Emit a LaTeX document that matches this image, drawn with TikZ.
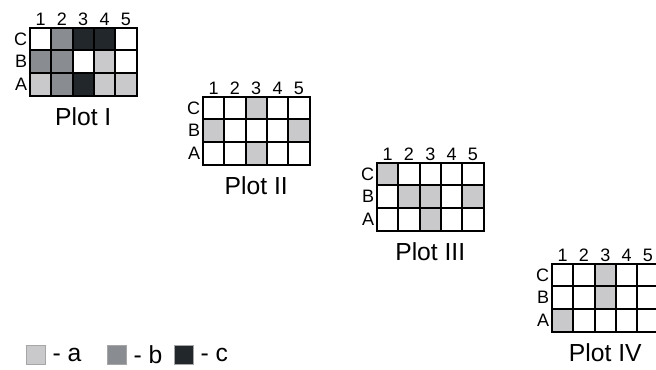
\documentclass[tikz,border=0pt]{standalone}
\usepackage{fontspec}
\setmainfont{Liberation Sans}
\usetikzlibrary{positioning}
\definecolor{cw}{HTML}{FFFFFF}
\definecolor{ca}{HTML}{C9C9CB}
\definecolor{cb}{HTML}{898C90}
\definecolor{cc}{HTML}{22272C}
\tikzset{cell/.style={draw, line width=1.5pt, minimum width=16pt, minimum height=16.9pt, inner sep=0pt, outer sep=0pt}}
\tikzset{axlab/.style={font=\fontsize{13.5}{14}\selectfont, inner sep=0pt}}
\tikzset{plotname/.style={font=\fontsize{18.5}{19}\selectfont, inner sep=0pt}}
\tikzset{key/.style={draw=gray!70, line width=0.6pt, minimum size=14pt, inner sep=0pt}}
\tikzset{keylab/.style={font=\fontsize{18.5}{19}\selectfont, inner sep=0pt}}

% #1 name, #2 left, #3 top, #4 rows C,B,A, #5 title
\newcommand{\plotgrid}[5]{%
  \foreach \row [count=\r] in {#4} {
    \foreach \f [count=\c] in \row {
      \node[cell, fill=\f] (#1-\r-\c) at ({#2+(\c-0.5)*21.3}, {#3+(\r-0.5)*22.5}) {};
    }
  }
  \foreach \lab [count=\r] in {C,B,A}
    \node[axlab, left=2pt of #1-\r-1] {\lab};
  \foreach \c in {1,...,5}
    \node[axlab, above=1.5pt of #1-1-\c] {\c};
  \node[plotname, below=9pt of #1-3-3] (#1-name) {#5};
}

\begin{document}
\begin{tikzpicture}[x=0.75pt,y=-0.75pt]
  \useasboundingbox (0,0) rectangle (656,369);

  \plotgrid{p1}{30}{28}{{cw,cb,cc,cc,cw},{cb,cb,cw,ca,cw},{ca,cb,cc,ca,ca}}{Plot I}
  \plotgrid{p2}{203}{97}{{cw,cw,ca,cw,cw},{ca,cw,cw,cw,ca},{cw,cw,ca,cw,cw}}{Plot II}
  \plotgrid{p3}{377}{163}{{ca,cw,cw,cw,cw},{cw,ca,ca,cw,ca},{cw,cw,ca,cw,cw}}{Plot III}
  \plotgrid{p4}{552}{264}{{cw,cw,ca,cw,cw},{cw,cw,ca,cw,cw},{ca,cw,cw,cw,cw}}{Plot IV}

  % legend
  \node[key, fill=ca] (ka) at (36,355) {};
  \node[keylab, right=5pt of ka] (la) {- a};
  \node[key, fill=cb] (kb) at (117,355) {};
  \node[keylab, right=5pt of kb] (lb) {- b};
  \node[key, fill=cc] (kc) at (184,355) {};
  \node[keylab, right=5pt of kc] (lc) {- c};
\end{tikzpicture}
\end{document}
